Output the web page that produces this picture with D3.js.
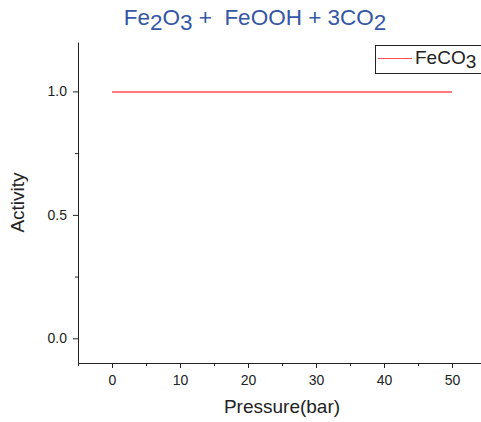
<!DOCTYPE html>
<html>
<head>
<meta charset="utf-8">
<script src="https://cdn.jsdelivr.net/npm/d3@7"></script>
<style>
  body { margin: 0; background: #fff; }
  svg { font-family: Arial, "Liberation Sans", sans-serif; }
</style>
</head>
<body>
<div id="chart"></div>
<script>
// data
const pressure = [0, 10, 20, 30, 40, 50];
const activity = [1, 1, 1, 1, 1, 1];
const xTicks = [0, 10, 20, 30, 40, 50];
const yTicks = [0.0, 0.5, 1.0];
const seriesName = "FeCO";

const width = 481, height = 422;
const margin = { left: 78, top: 42, bottom: 59 };
const red = "#ff4d55";

const svg = d3.select("#chart").append("svg")
  .attr("width", width)
  .attr("height", height);

const x = d3.scaleLinear().domain([-5, 55]).range([margin.left, 112 + 55 * 6.8]);
const y = d3.scaleLinear().domain([-0.1, 1.2]).range([height - margin.bottom, margin.top]);

// title
const title = svg.append("text")
  .attr("x", 255)
  .attr("y", 25)
  .attr("text-anchor", "middle")
  .attr("fill", "#3457a6")
  .attr("font-size", 22.5)
  .style("white-space", "pre");
title.append("tspan").text("Fe");
title.append("tspan").attr("dy", 5).text("2");
title.append("tspan").attr("dy", -5).text("O");
title.append("tspan").attr("dy", 5).text("3");
title.append("tspan").attr("dy", -5).text(" +  FeOOH + 3CO");
title.append("tspan").attr("dy", 5).text("2");

// axes
svg.append("g")
  .attr("transform", `translate(0,${y(-0.1)})`)
  .call(d3.axisBottom(x).tickValues(xTicks).tickSize(5).tickPadding(7).tickSizeOuter(0));
svg.append("g")
  .attr("transform", `translate(0,${y(-0.1)})`)
  .call(d3.axisBottom(x).tickValues([-5, 5, 15, 25, 35, 45, 55]).tickSize(3).tickFormat("").tickSizeOuter(0))
  .select(".domain").remove();

svg.append("g")
  .attr("transform", `translate(${x(-5)},0)`)
  .call(d3.axisLeft(y).tickValues(yTicks).tickFormat(d3.format(".1f")).tickSize(5).tickPadding(6).tickSizeOuter(0));
svg.append("g")
  .attr("transform", `translate(${x(-5)},0)`)
  .call(d3.axisLeft(y).tickValues([0.25, 0.75]).tickSize(3).tickFormat("").tickSizeOuter(0))
  .select(".domain").remove();

svg.selectAll(".domain, .tick line").attr("stroke", "#222").attr("stroke-width", 1);
svg.selectAll(".tick text").attr("font-size", 14).attr("fill", "#222")
  .attr("font-family", "Arial, 'Liberation Sans', sans-serif");

// axis titles
svg.append("text")
  .attr("x", 282)
  .attr("y", 413)
  .attr("text-anchor", "middle")
  .attr("font-size", 19)
  .attr("fill", "#222")
  .text("Pressure(bar)");
svg.append("text")
  .attr("transform", `translate(24,${y(0.55)}) rotate(-90)`)
  .attr("text-anchor", "middle")
  .attr("font-size", 19)
  .attr("fill", "#222")
  .text("Activity");

// line
const line = d3.line()
  .x((d, i) => x(pressure[i]))
  .y(d => Math.round(y(d)) + 1);
svg.append("path")
  .datum(activity)
  .attr("class", "series")
  .attr("d", line)
  .style("fill", "none")
  .style("stroke", red)
  .style("stroke-width", "1.6px");

// legend
const lg = svg.append("g").attr("transform", "translate(375,45)");
lg.append("rect")
  .attr("x", 0.5).attr("y", 0.5)
  .attr("width", 112).attr("height", 28)
  .attr("fill", "#fff").attr("stroke", "#222");
lg.append("line")
  .attr("x1", 3).attr("x2", 37)
  .attr("y1", 13.5).attr("y2", 13.5)
  .attr("stroke", red)
  .attr("stroke-width", 1.2);
const lt = lg.append("text")
  .attr("x", 40).attr("y", 18.5)
  .attr("font-size", 19).attr("fill", "#222");
lt.append("tspan").text(seriesName);
lt.append("tspan").attr("dy", 4).text("3");
</script>
</body>
</html>
